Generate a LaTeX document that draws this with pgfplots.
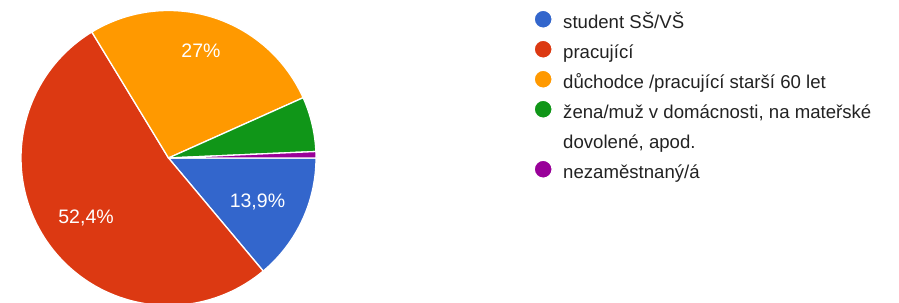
\documentclass[border=0pt]{standalone}
\usepackage{pgfplots}
\pgfplotsset{compat=1.18}
\usepackage{fontspec}
\setmainfont{Liberation Sans}
\definecolor{cblue}{HTML}{3366CC}
\definecolor{cred}{HTML}{DC3912}
\definecolor{corange}{HTML}{FF9900}
\definecolor{cgreen}{HTML}{109618}
\definecolor{cpurple}{HTML}{990099}
\definecolor{ctext}{HTML}{222222}
\newcommand\fs{\fontsize{19.5bp}{24bp}\selectfont}
\newcommand\fl{\fontsize{18.6bp}{24bp}\selectfont}
% start (cumulative %), value (%), colour
\newcommand\slice[3]{%
  \addplot[fill=#3, draw=white, line width=1.3bp, line join=round,
    domain={-3.6*(#1+#2)}:{-3.6*(#1)}, samples=90]
    ({cos(x)},{sin(x)}) -- (0,0) -- cycle;}
\begin{document}
\begin{tikzpicture}
\begin{axis}[
  width=899bp, height=303bp, scale only axis, hide axis,
  xmin=-1.1424, xmax=4.9525, ymin=-0.9831, ymax=1.0712,
  clip=true,
  legend cell align=left,
  legend image code/.code={\fill[overlay] (0bp,4bp) circle (9bp);},
  legend style={at={(axis cs:2.539,0.976)}, anchor=north west,
    draw=none, fill=none, inner sep=0pt, column sep=20bp, row sep=12bp,
    font=\fl\color{ctext},
    nodes={inner sep=0pt, text height=14bp, text depth=4bp}},
]
\slice{0}{13.9}{cblue}
\addlegendentry{student SŠ/VŠ}
\slice{13.9}{52.4}{cred}
\addlegendentry{pracující}
\slice{66.3}{27.0}{corange}
\addlegendentry{důchodce /pracující starší 60 let}
\slice{93.3}{6.0}{cgreen}
\addlegendentry{žena/muž v domácnosti, na mateřské}
\addlegendimage{empty legend}
\addlegendentry{dovolené, apod.}
\slice{99.3}{0.7}{cpurple}
\addlegendentry{nezaměstnaný/á}
\node[anchor=base, text=white, font=\fs] at (axis cs:0.603,-0.339) {13,9\%};
\node[anchor=base, text=white, font=\fs] at (axis cs:-0.559,-0.447) {52,4\%};
\node[anchor=base, text=white, font=\fs] at (axis cs:0.220,0.683) {27\%};
\coordinate (BL) at (rel axis cs:0,0);
\coordinate (TR) at (rel axis cs:1,1);
\end{axis}
\pgfresetboundingbox
\useasboundingbox (BL) rectangle (TR);
\end{tikzpicture}
\end{document}
